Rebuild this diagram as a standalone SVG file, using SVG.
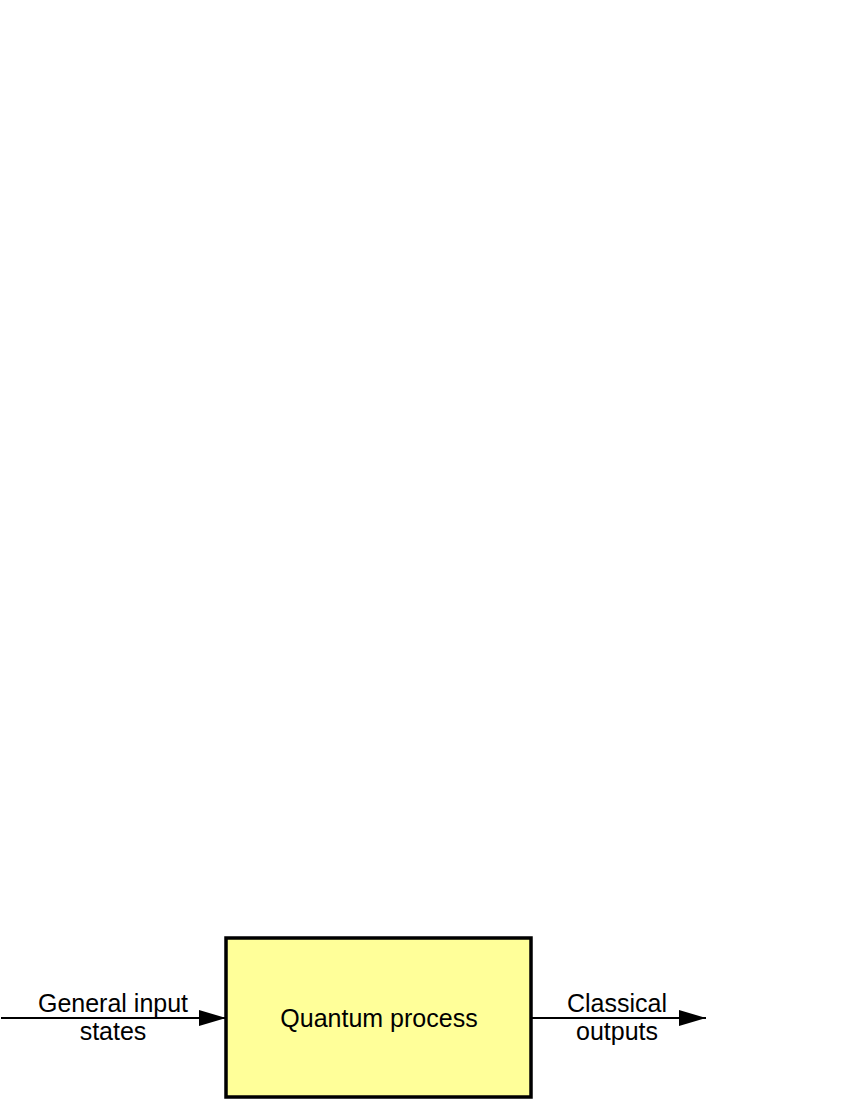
<svg xmlns="http://www.w3.org/2000/svg" width="850" height="1100" viewBox="0 0 850 1100">
<style>
text{font-family:"Liberation Sans",Arial,sans-serif;font-size:25px;fill:#000;text-anchor:middle}
.edge{stroke:#000;stroke-width:2;fill:none}
</style>
<defs>
<marker id="arr" markerUnits="userSpaceOnUse" markerWidth="28" markerHeight="18" refX="27" refY="9" orient="auto" viewBox="0 0 28 18">
<path d="M0,1 L27,9 L0,17 Z" fill="#000"/>
</marker>
</defs>
<rect width="850" height="1100" fill="#fff"/>
<g id="connectors">
<line class="edge" x1="1" y1="1018" x2="226" y2="1018" marker-end="url(#arr)"/>
<line class="edge" x1="531" y1="1018" x2="706" y2="1018" marker-end="url(#arr)"/>
<text x="113" y="1012">General input</text>
<text x="113" y="1040">states</text>
<text x="617" y="1012">Classical</text>
<text x="617" y="1040">outputs</text>
</g>
<g id="quantum-process">
<rect x="226" y="938" width="305" height="159" fill="#ffff99" stroke="#000" stroke-width="3.5"/>
<text x="379" y="1027">Quantum process</text>
</g>
</svg>
